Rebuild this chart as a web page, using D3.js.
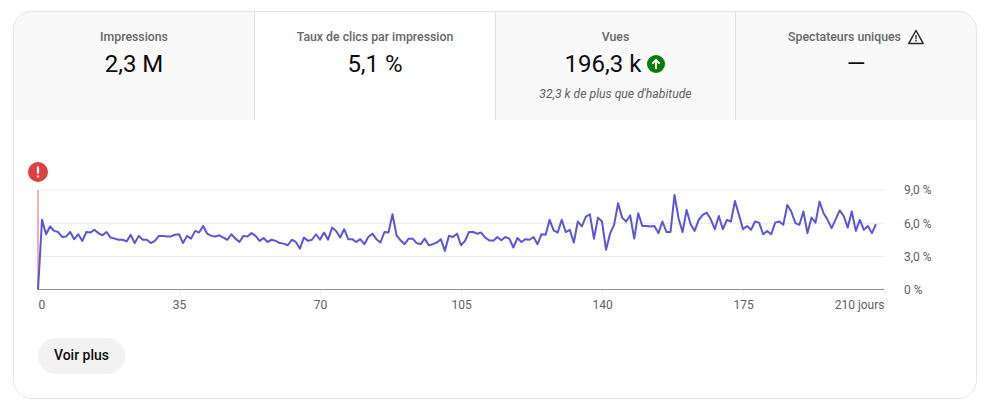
<!DOCTYPE html>
<html>
<head>
<meta charset="utf-8">
<script src="https://cdn.jsdelivr.net/npm/d3@7"></script>
<style>
  html, body { margin: 0; padding: 0; background: #fff; }
  svg { display: block; font-family: Roboto, sans-serif; }
  .domain { display: none; }
</style>
</head>
<body>
<svg id="chart" width="996" height="412"></svg>
<script>
const tabLabels = ['Impressions', 'Taux de clics par impression', 'Vues', 'Spectateurs uniques'];
const tabValues = ['2,3 M', '5,1 %', '196,3 k', '—'];
const viewsNote = "32,3 k de plus que d'habitude";
const xTicks = [0, 35, 70, 105, 140, 175, 210];
const yTicks = [0, 3, 6, 9];
const yTickLabels = ['0 %', '3,0 %', '6,0 %', '9,0 %'];

// one value per day
const ctr = [
  0, 6.3, 5.0, 5.7, 5.3, 5.2, 4.75, 4.8, 5.2, 4.55,
  5.0, 4.4, 5.2, 5.15, 5.4, 5.1, 4.9, 5.2, 4.7, 4.6,
  4.5, 4.5, 4.35, 4.95, 4.2, 4.85, 4.5, 4.5, 4.2, 4.4,
  4.85, 4.85, 4.8, 4.8, 4.95, 5.0, 4.2, 4.85, 4.6, 5.3,
  5.15, 5.75, 5.05, 4.85, 4.8, 4.9, 4.7, 4.5, 5.0, 4.6,
  4.3, 4.85, 4.8, 5.1, 4.85, 4.4, 4.65, 4.3, 4.5, 4.4,
  4.2, 4.15, 4.0, 4.5, 4.3, 3.7, 4.7, 4.4, 4.5, 5.0,
  4.5, 5.15, 4.5, 5.6, 5.3, 4.7, 5.45, 4.55, 4.55, 4.3,
  4.55, 4.1, 4.75, 5.05, 4.55, 4.25, 5.2, 5.15, 6.8, 4.9,
  4.45, 4.1, 4.6, 4.6, 4.2, 4.1, 4.6, 4.0, 4.1, 4.25,
  4.55, 3.5, 4.85, 4.75, 5.05, 4.0, 4.4, 5.2, 5.2, 5.05,
  5.15, 4.7, 4.45, 4.4, 4.75, 4.45, 4.75, 4.6, 3.8, 4.65,
  4.3, 4.55, 4.5, 4.75, 4.1, 5.0, 4.95, 6.3, 5.35, 5.15,
  6.3, 5.2, 5.4, 4.25, 6.15, 5.7, 6.6, 6.8, 4.6, 6.5,
  6.15, 3.6, 5.05, 5.85, 7.8, 6.5, 6.15, 6.7, 4.6, 6.9,
  5.75, 5.75, 5.7, 5.75, 5.1, 6.15, 5.2, 5.2, 8.55, 6.45,
  5.2, 7.2, 5.9, 5.3, 6.3, 6.75, 6.95, 6.35, 5.45, 6.65,
  5.45, 6.3, 6.15, 8.0, 6.75, 5.45, 5.75, 5.4, 6.15, 6.05,
  5.0, 5.3, 5.0, 6.05, 6.15, 5.85, 7.65, 7.05, 6.0, 5.85,
  7.05, 5.1, 6.5, 6.05, 7.95, 6.9, 6.3, 5.55, 6.35, 7.15,
  6.65, 5.6, 7.05, 5.3, 6.3, 5.4, 5.75, 5.1, 5.9
];

const svg = d3.select('#chart');

const card = {x: 13.5, y: 11.5, w: 963, h: 387, r: 18};
const tabH = 108.5;
const tabEdges = [13.5, 254.5, 495.5, 735.5, 976.5];
const selectedTab = 1;

// tabs get clipped to the rounded card
svg.append('clipPath').attr('id', 'card-clip').append('rect')
  .attr('x', card.x).attr('y', card.y).attr('width', card.w).attr('height', card.h).attr('rx', card.r);

const tabs = svg.append('g').attr('clip-path', 'url(#card-clip)');
tabs.selectAll('rect').data(tabLabels).join('rect')
  .attr('x', (d, i) => tabEdges[i])
  .attr('y', card.y)
  .attr('width', (d, i) => tabEdges[i + 1] - tabEdges[i])
  .attr('height', tabH)
  .attr('fill', (d, i) => i === selectedTab ? '#fff' : '#f9f9f9');
tabs.selectAll('line').data(tabEdges.slice(1, 4)).join('line')
  .attr('x1', d => d).attr('x2', d => d)
  .attr('y1', card.y).attr('y2', card.y + tabH)
  .attr('stroke', '#e0e0e0');

svg.append('rect')
  .attr('x', card.x).attr('y', card.y).attr('width', card.w).attr('height', card.h).attr('rx', card.r)
  .attr('fill', 'none').attr('stroke', '#e5e5e5');

const tabCentre = i => (tabEdges[i] + tabEdges[i + 1]) / 2;
const labelShift = [0, 0, 0, -11.5];
const valueShift = [0, 0, -12.5, 0];

svg.append('g').selectAll('text').data(tabLabels).join('text')
  .attr('x', (d, i) => tabCentre(i) + labelShift[i])
  .attr('y', 41)
  .attr('text-anchor', 'middle')
  .attr('font-size', 12.3).attr('font-weight', 500).attr('fill', '#666666')
  .text(d => d);

svg.append('g').selectAll('text').data(tabValues).join('text')
  .attr('x', (d, i) => tabCentre(i) + valueShift[i])
  .attr('y', 72)
  .attr('text-anchor', 'middle')
  .attr('font-size', 24).attr('fill', '#0d0d0d')
  .text(d => d);

svg.append('text')
  .attr('x', tabCentre(2)).attr('y', 97.5)
  .attr('text-anchor', 'middle')
  .attr('font-size', 12.2).attr('font-style', 'italic').attr('fill', '#606060')
  .text(viewsNote);

// green up arrow
const up = svg.append('g').attr('transform', 'translate(656,64)');
up.append('circle').attr('r', 9).attr('fill', '#0b7a0b');
up.append('path').attr('d', 'M0,5V-4M-3.6,-0.4L0,-4L3.6,-0.4')
  .attr('fill', 'none').attr('stroke', '#fff').attr('stroke-width', 2);

// warning triangle
const warn = svg.append('g').attr('transform', 'translate(916,37)');
warn.append('path').attr('d', 'M0,-6.5L7.2,6.4H-7.2Z')
  .attr('fill', 'none').attr('stroke', '#282828').attr('stroke-width', 1.5).attr('stroke-linejoin', 'round');
warn.append('path').attr('d', 'M0,-2V2.2M0,3V4.6').attr('stroke', '#282828').attr('stroke-width', 1.3);

// chart
const x = d3.scaleLinear().domain([0, 210]).range([38, 884]);
const y = d3.scaleLinear().domain([0, 9]).range([289.5, 190]);

const grid = svg.append('g');
grid.selectAll('line').data(yTicks.slice(1)).join('line')
  .attr('x1', x(0)).attr('x2', x(210))
  .attr('y1', d => y(d)).attr('y2', d => y(d))
  .attr('stroke', d => d === 9 ? '#f2f2f2' : '#e9e9e9')
  .attr('stroke-width', d => d === 9 ? 1.5 : 1);

const xAxis = svg.append('g')
  .attr('transform', `translate(0,${y(0)})`)
  .call(d3.axisBottom(x).tickValues(xTicks).tickSize(6).tickPadding(5)
    .tickFormat(d => d === 210 ? '210 jours' : d));
xAxis.selectAll('line').attr('stroke', '#eeeeee').attr('stroke-width', 1.2);
xAxis.selectAll('text')
  .attr('font-family', 'Roboto, sans-serif').attr('font-size', 12).attr('fill', '#606060')
  .attr('text-anchor', d => d === 0 ? 'start' : d === 210 ? 'end' : 'middle');

const yAxis = svg.append('g')
  .attr('transform', `translate(${x(210)},0)`)
  .call(d3.axisRight(y).tickValues(yTicks).tickSize(0).tickPadding(20)
    .tickFormat((d, i) => yTickLabels[i]));
yAxis.selectAll('text')
  .attr('font-family', 'Roboto, sans-serif').attr('font-size', 12).attr('fill', '#606060');

svg.append('line')
  .attr('x1', x(0)).attr('x2', x(210)).attr('y1', y(0)).attr('y2', y(0))
  .attr('stroke', '#909090').attr('stroke-width', 1.2);

svg.append('line')
  .attr('x1', x(0)).attr('x2', x(0)).attr('y1', y(9)).attr('y2', y(0))
  .attr('stroke', '#e89a9a').attr('stroke-width', 1.5);

const line = d3.line().x((d, i) => x(i)).y(d => y(d));
svg.append('path').datum(ctr)
  .attr('d', line)
  .attr('fill', 'none').attr('stroke', '#5c55d8').attr('stroke-width', 2).attr('stroke-linejoin', 'round');

// red alert marker
const alertMark = svg.append('g').attr('transform', `translate(${x(0)},172)`);
alertMark.append('circle').attr('r', 10).attr('fill', '#dd4040');
alertMark.append('path').attr('d', 'M0,-5.5V1.5M0,3.5V5.5').attr('stroke', '#fff').attr('stroke-width', 2.2);

// button
svg.append('rect')
  .attr('x', 38).attr('y', 338).attr('width', 87).attr('height', 36).attr('rx', 18)
  .attr('fill', '#f2f2f2');
svg.append('text')
  .attr('x', 81.5).attr('y', 360)
  .attr('text-anchor', 'middle')
  .attr('font-size', 14).attr('font-weight', 500).attr('fill', '#0d0d0d')
  .text('Voir plus');
</script>
</body>
</html>
